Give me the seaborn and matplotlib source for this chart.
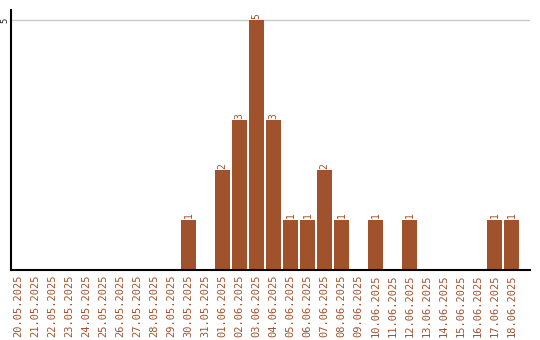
import matplotlib
matplotlib.use("Agg")
import matplotlib.pyplot as plt
import seaborn as sns
import pandas as pd

dates = ["20.05.2025", "21.05.2025", "22.05.2025", "23.05.2025", "24.05.2025",
         "25.05.2025", "26.05.2025", "27.05.2025", "28.05.2025", "29.05.2025",
         "30.05.2025", "31.05.2025", "01.06.2025", "02.06.2025", "03.06.2025",
         "04.06.2025", "05.06.2025", "06.06.2025", "07.06.2025", "08.06.2025",
         "09.06.2025", "10.06.2025", "11.06.2025", "12.06.2025", "13.06.2025",
         "14.06.2025", "15.06.2025", "16.06.2025", "17.06.2025", "18.06.2025"]
counts = [0, 0, 0, 0, 0, 0, 0, 0, 0, 0,
          1, 0, 2, 3, 5, 3, 1, 1, 2, 1,
          0, 1, 0, 1, 0, 0, 0, 0, 1, 1]

sns.set_style("white")
plt.rcParams['font.family'] = ['DejaVu Sans Mono', 'DejaVu Sans']

df = pd.DataFrame({"date": dates, "count": counts})
color = "#A0522D"

fig = plt.figure(figsize=(5.4, 3.4), dpi=100)
ax = fig.add_axes([11/540, 70/340, 519/540, 260/340])
sns.barplot(data=df, x="date", y="count", color=color, width=0.84,
            saturation=1, ax=ax, order=dates, linewidth=0, errorbar=None)

ax.set_xlim(-0.44, 30.09)
ax.set_ylim(0, 5.2)
ax.set_yticks([5])
ax.set_yticklabels(["5"], rotation=90, va="center", fontsize=6.5)
ax.yaxis.grid(True, color="#c8c8c8", linewidth=1)
ax.set_axisbelow(True)
ax.tick_params(axis="y", length=0, pad=1.5)
ax.tick_params(axis="x", length=0, pad=3, labelsize=7.5, labelcolor=color)
for lab in ax.get_xticklabels():
    lab.set_rotation(90)
ax.set_xlabel("")
ax.set_ylabel("")

for s in ["top", "right"]:
    ax.spines[s].set_visible(False)
for s in ["left", "bottom"]:
    ax.spines[s].set_visible(True)
    ax.spines[s].set_color("black")
    ax.spines[s].set_linewidth(1.5)

for i, v in enumerate(counts):
    if v > 0:
        ax.text(i, v + 0.03, str(v), rotation=90, ha="center", va="bottom",
                fontsize=7, color=color)

fig.savefig("out.png", dpi=100)
